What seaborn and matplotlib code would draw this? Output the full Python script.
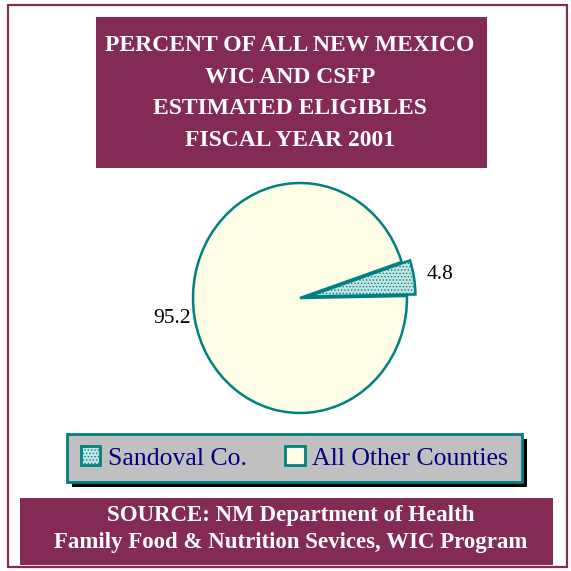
import numpy as np
import matplotlib
matplotlib.use('Agg')
import matplotlib.pyplot as plt
import seaborn as sns
from matplotlib.patches import Rectangle

# data
categories = ['Sandoval Co.', 'All Other Counties']
percents = [4.8, 95.2]
value_labels = ['4.8', '95.2']

title_text = 'PERCENT OF ALL NEW MEXICO\nWIC AND CSFP\nESTIMATED ELIGIBLES\nFISCAL YEAR 2001'
source_text = 'SOURCE: NM Department of Health\nFamily Food & Nutrition Sevices, WIC Program'

maroon = '#832A55'
teal = '#008080'
cream = '#FFFFE8'
light_teal = '#c4e4e4'

sns.set_theme(style='white')
plt.rcParams['font.family'] = ['Liberation Serif', 'DejaVu Serif']
plt.rcParams['hatch.linewidth'] = 0.6

W = H = 571
fig = plt.figure(figsize=(5.71, 5.71), dpi=100)
fig.patch.set_facecolor('white')


def box(x0, y0, x1, y1, **kw):
    # pixel box (top-left origin) -> figure rect
    r = Rectangle((x0 / W, 1 - y1 / H), (x1 - x0) / W, (y1 - y0) / H,
                  transform=fig.transFigure, **kw)
    fig.patches.append(r)
    return r


# outer frame
box(8, 5, 567, 567, facecolor='none', edgecolor=maroon, lw=1.6)

# title box
box(96, 17, 487, 168, facecolor=maroon, edgecolor='none')
fig.text(290 / W, 1 - 93 / H, title_text, ha='center', va='center', color='white',
         fontsize=17, fontweight='bold', linespacing=1.66)

# pie
cx, cy, rx, ry = 300, 298, 107, 115
ax = fig.add_axes([(cx - rx) / W, 1 - (cy + ry) / H, 2 * rx / W, 2 * ry / H])
wedges, _ = ax.pie(percents, colors=[light_teal, cream], startangle=1, counterclock=True,
                   explode=[0.08, 0], radius=1,
                   wedgeprops=dict(edgecolor=teal, linewidth=1.8))
wedges[0].set_hatch('.....')
ax.set_aspect('auto')
ax.set_xlim(-1, 1)
ax.set_ylim(-1, 1)
ax.axis('off')

# value labels placed from wedge angles
for w, lab, dist in zip(wedges, value_labels, [1.2, 1.04]):
    mid = np.deg2rad((w.theta1 + w.theta2) / 2)
    x, y = dist * np.cos(mid), dist * np.sin(mid)
    ax.text(x, y, lab, ha='left' if x > 0 else 'right', va='center',
            fontsize=15.5, color='black', clip_on=False)

# legend box with shadow
box(72, 439, 527, 487, facecolor='black', edgecolor='none')
box(67, 434, 522, 482, facecolor='#c0c0c0', edgecolor=teal, lw=2)
leg = fig.legend(wedges, categories, loc='center', bbox_to_anchor=(294.5 / W, 1 - 458 / H),
                 ncol=2, frameon=False, fontsize=18.5, handlelength=0.75, handleheight=0.75,
                 handletextpad=0.3, columnspacing=1.5, labelcolor='#000080')
for h in leg.legend_handles:
    h.set_linewidth(2)

# source box
box(20, 498, 553, 565, facecolor=maroon, edgecolor='none')
fig.text(291 / W, 1 - 529 / H, source_text, ha='center', va='center', color='white',
         fontsize=16.5, fontweight='bold', linespacing=1.4)

fig.savefig('out.png', dpi=100)
